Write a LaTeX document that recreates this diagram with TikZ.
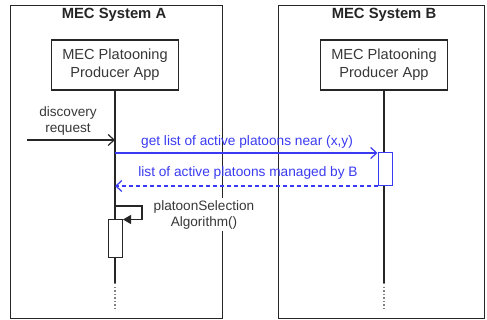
\documentclass[tikz,border=0pt]{standalone}
\usepackage{fontspec}
\setmainfont{Liberation Sans}
\usetikzlibrary{arrows.meta}
\definecolor{ink}{HTML}{262626}
\definecolor{msgblue}{HTML}{3A3AF2}
\definecolor{txtgray}{HTML}{383838}
\begin{document}
\begin{tikzpicture}[x=1pt,y=-1pt,
  sysbox/.style={draw=ink,line width=1.4pt,minimum width=212pt,minimum height=313pt,anchor=north west,inner sep=0pt},
  systitle/.style={font=\fontsize{14.8}{16}\selectfont\bfseries,text=ink},
  appbox/.style={draw=ink,line width=1.2pt,fill=white,minimum width=127pt,minimum height=50pt,align=center,
    font=\fontsize{14.6}{18}\selectfont,text=txtgray,inner sep=2pt},
  life/.style={draw=ink,line width=1.2pt},
  lifedot/.style={draw=gray,line width=1.2pt,dash pattern=on 1.5pt off 2pt},
  actbox/.style={draw=ink,line width=1pt,fill=white,minimum width=14pt,inner sep=0pt},
  msg/.style={draw=ink,line width=1.2pt,-{Straight Barb[length=6pt,width=11pt]}},
  callmsg/.style={draw=msgblue,line width=1.2pt,-{Straight Barb[length=6pt,width=11pt]}},
  retmsg/.style={draw=msgblue,line width=1.2pt,dash pattern=on 4pt off 3pt,-{Straight Barb[length=6pt,width=11pt]}},
  selfmsg/.style={draw=ink,line width=1.2pt,-{Triangle[length=8pt,width=9pt]}},
  lbl/.style={font=\fontsize{13.6}{16}\selectfont,text=txtgray,align=center,inner sep=1pt},
  bluelbl/.style={font=\fontsize{13.7}{16}\selectfont,text=msgblue,inner sep=1pt}]
\useasboundingbox (0,0) rectangle (487,320);

% the two MEC systems
\node[sysbox] (sysA) at (10,5) {};
\node[sysbox,minimum width=206pt] (sysB) at (278,5) {};
\node[systitle] (titleA) at (114,15) {MEC System A};
\node[systitle] (titleB) at (384,15) {MEC System B};

% producer apps
\node[appbox] (appA) at (115,65) {MEC Platooning\\Producer App};
\node[appbox] (appB) at (384,65) {MEC Platooning\\Producer App};

% lifelines
\coordinate (endA) at (115,283);
\coordinate (dotA) at (115,311);
\coordinate (endB) at (384,283);
\coordinate (dotB) at (384,311);
\draw[life] (appA.south) -- (endA);
\draw[lifedot] (endA) -- (dotA);
\draw[life] (appB.south) -- (endB);
\draw[lifedot] (endB) -- (dotB);

% activations
\node[actbox,draw=msgblue,minimum height=33pt,anchor=north west] (actB) at (377.5,152) {};
\node[actbox,minimum height=38pt,anchor=north west] (actA) at (108,219) {};

% incoming discovery request
\coordinate (src) at (27,140);
\coordinate (inA) at (115,140);
\draw[msg] (src) -- (inA);
\node[lbl] (discLbl) at (68,120.5) {discovery\\request};

% request to system B
\coordinate (callA) at (115,153);
\draw[callmsg] (callA) -- (callA -| actB.west);
\node[bluelbl] (callLbl) at (247,142) {get list of active platoons near (x,y)};

% reply from system B
\draw[retmsg] (actB.south west) -- (actB.south west -| appA);
\node[bluelbl] (retLbl) at (248,173) {list of active platoons managed by B};

% self call
\coordinate (selfA) at (115,206);
\coordinate (selfR) at (142,206);
\coordinate (selfD) at (142,219.5);
\node[lbl,fill=white,inner sep=2pt] (selfLbl) at (204,214.5) {platoonSelection\\Algorithm()};
\draw[selfmsg] (selfA) -- (selfR) -- (selfD) -- (selfD -| actA.east);
\end{tikzpicture}
\end{document}
